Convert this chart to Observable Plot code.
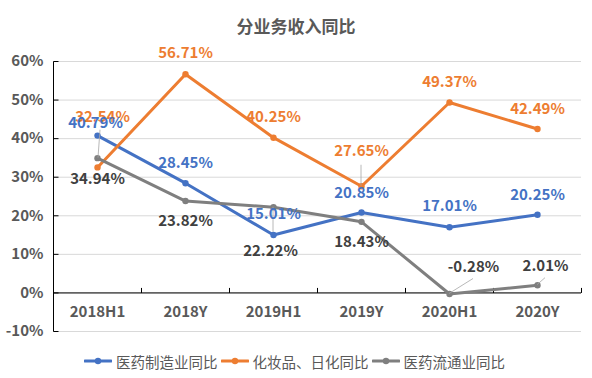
<!DOCTYPE html>
<html><head><meta charset="utf-8">
<script src="https://cdn.jsdelivr.net/npm/d3@7"></script>
<script src="https://cdn.jsdelivr.net/npm/@observablehq/plot@0.6"></script>
<style>
body{margin:0;background:#fff;}
#wrap{position:relative;width:592px;height:378px;font-family:"Noto Sans CJK SC","Noto Sans",sans-serif;overflow:hidden;}
#title{position:absolute;left:0;top:0;width:592px;height:52px;line-height:52px;text-align:center;font-size:17px;font-weight:bold;color:#595959;}
#chart{position:absolute;left:0;top:30px;}
#legend{position:absolute;left:0;top:348px;width:592px;height:26px;display:flex;justify-content:center;align-items:center;font-size:14.5px;color:#595959;white-space:nowrap;}
#legend .item{display:flex;align-items:center;margin-right:3px;}
#legend svg{margin-right:4px;}
</style></head><body>
<div id="wrap"><div id="title"></div><div id="chart"></div><div id="legend"></div></div>
<script>
// ---- data ----
const chartTitle = "分业务收入同比";
const categories = ["2018H1","2018Y","2019H1","2019Y","2020H1","2020Y"];
const seriesNames = ["医药制造业同比","化妆品、日化同比","医药流通业同比"];
const pharmaMfg  = [40.79, 28.45, 15.01, 20.85, 17.01, 20.25];
const cosmetics  = [32.54, 56.71, 40.25, 27.65, 49.37, 42.49];
const pharmaDist = [34.94, 23.82, 22.22, 18.43, -0.28, 2.01];
const yTicks = [-10, 0, 10, 20, 30, 40, 50, 60];

// ---- styles ----
const lineColors  = ["#4472C4", "#ED7D31", "#7F7F7F"];
const labelColors = ["#4472C4", "#ED7D31", "#404040"];
const labelOffsets = [
  [[-2,-12],[0,-20],[0,-21],[0,-19],[0,-21],[0,-20]],
  [[5,-50],[0,-21],[0,-20],[0,-35],[0,-20],[0,-20]],
  [[0,21],[0,20],[-3,44],[0,20],[24,-27],[8,-19]]
];
// leader lines: series index, category index, start offset px, end offset px
const leaders = [
  [2,0,[1,0],[3,-28]],
  [2,2,[0,0],[0,25]],
  [1,3,[0,0],[0,-21]],
  [2,4,[0,0],[24,-15]],
  [2,5,[0,0],[8,-7]]
];
const fontFamily = '"Noto Sans CJK SC", "Noto Sans", sans-serif';
const axisTextColor = "#595959";

document.getElementById("title").textContent = chartTitle;

const values = [pharmaMfg, cosmetics, pharmaDist];
const rows = seriesNames.flatMap((s, si) => categories.map((c, i) => ({series: s, si, cat: c, i, value: values[si][i]})));
const fmtPct = v => v.toFixed(2) + "%";

function axisDecor(index, scales, vals, dims) {
  const {x, y} = scales;
  const {marginLeft, marginRight, width} = dims;
  const g = d3.create("svg:g").attr("stroke", "#000").attr("stroke-width", 1).attr("transform", "translate(0.5,0.5)");
  const top = y(d3.max(yTicks)), bot = y(d3.min(yTicks));
  g.append("line").attr("x1", marginLeft).attr("x2", marginLeft).attr("y1", top).attr("y2", bot);
  for (const t of yTicks) g.append("line").attr("x1", marginLeft).attr("x2", marginLeft + 5).attr("y1", y(t)).attr("y2", y(t));
  const step = x.step ? x.step() : (width - marginLeft - marginRight) / categories.length;
  for (const c of categories) {
    const xx = x(c) + step / 2;
    g.append("line").attr("x1", xx).attr("x2", xx).attr("y1", y(0) - 5).attr("y2", y(0));
  }
  return g.node();
}

function leaderLines(index, scales) {
  const {x, y} = scales;
  const g = d3.create("svg:g").attr("stroke", "#A6A6A6").attr("stroke-width", 0.8);
  for (const [si, i, a, b] of leaders) {
    const px = x(categories[i]), py = y(values[si][i]);
    g.append("line").attr("x1", px + a[0]).attr("y1", py + a[1]).attr("x2", px + b[0]).attr("y2", py + b[1]);
  }
  return g.node();
}

const labelMarks = [];
for (const si of [1, 0, 2]) {
  for (let i = 0; i < categories.length; i++) {
    const [dx, dy] = labelOffsets[si][i];
    labelMarks.push(Plot.text([rows[si * categories.length + i]], {
      x: "cat", y: "value", text: d => fmtPct(d.value), dx, dy,
      fill: labelColors[si], fontSize: 15, fontWeight: "bold"
    }));
  }
}

const chart = Plot.plot({
  width: 592,
  height: 315,
  marginTop: 31,
  marginBottom: 14,
  marginLeft: 53,
  marginRight: 11,
  style: {fontFamily, background: "transparent"},
  x: {type: "point", domain: categories, padding: 0.5, axis: null},
  y: {domain: [d3.min(yTicks), d3.max(yTicks)], axis: null},
  color: {domain: seriesNames, range: lineColors},
  marks: [
    Plot.ruleY(yTicks, {y: d => d, stroke: "#D9D9D9", strokeWidth: 1}),
    Plot.ruleY([0], {y: d => d, stroke: "#000", strokeWidth: 1}),
    axisDecor,
    Plot.line(rows, {x: "cat", y: "value", z: "series", stroke: "series", strokeWidth: 3, strokeLinejoin: "round", strokeLinecap: "round"}),
    Plot.dot(rows, {x: "cat", y: "value", fill: "series", r: 3.2}),
    leaderLines,
    ...labelMarks,
    Plot.text(yTicks, {y: d => d, text: d => d + "%", frameAnchor: "left", textAnchor: "end", dx: -10, fill: axisTextColor, fontSize: 15, fontWeight: "bold"}),
    Plot.text(categories, {x: d => d, y: () => 0, text: d => d, dy: 19, fill: axisTextColor, fontSize: 15, fontWeight: "bold"})
  ]
});
document.getElementById("chart").appendChild(chart);

// legend
const legend = document.getElementById("legend");
seriesNames.forEach((name, si) => {
  const item = document.createElement("div");
  item.className = "item";
  const sw = d3.create("svg").attr("width", 28).attr("height", 10);
  sw.append("line").attr("x1", 1).attr("x2", 27).attr("y1", 5).attr("y2", 5).attr("stroke", lineColors[si]).attr("stroke-width", 3).attr("stroke-linecap", "round");
  sw.append("circle").attr("cx", 14).attr("cy", 5).attr("r", 3.2).attr("fill", lineColors[si]);
  item.appendChild(sw.node());
  const t = document.createElement("span");
  t.textContent = name;
  item.appendChild(t);
  legend.appendChild(item);
});
</script>
</body></html>
